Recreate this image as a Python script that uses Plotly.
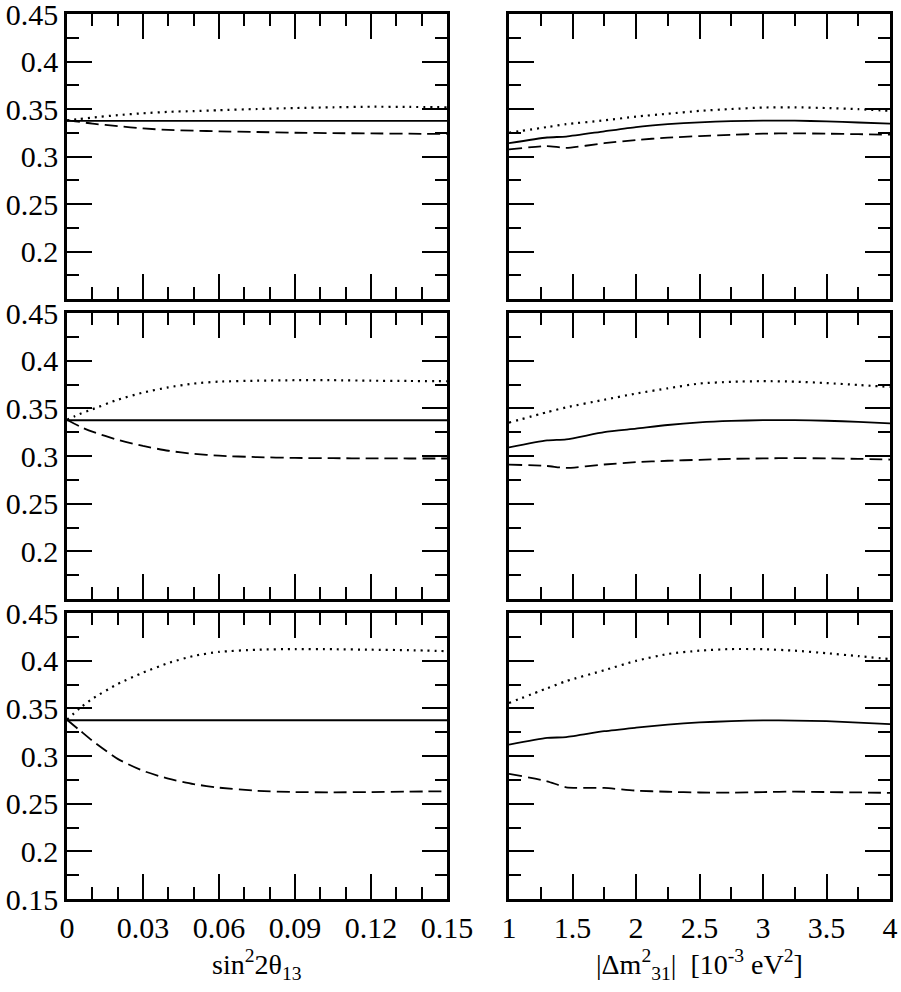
import plotly.graph_objects as go

# x grids
s2t = [0, 0.005, 0.01, 0.02, 0.03, 0.04, 0.05, 0.06, 0.075, 0.09, 0.105, 0.12, 0.135, 0.15]
dm2 = [1, 1.3, 1.45, 1.75, 2, 2.25, 2.5, 2.75, 3, 3.25, 3.5, 3.75, 4]

# left column (vs sin^2 2theta13)
left_solid = [0.3375] * len(s2t)
top_left_dot = [0.338, 0.3395, 0.341, 0.3435, 0.3455, 0.347, 0.3478, 0.3487, 0.35, 0.351, 0.3518, 0.3524, 0.3522, 0.3518]
top_left_dash = [0.338, 0.3365, 0.3345, 0.332, 0.3295, 0.328, 0.3272, 0.3265, 0.3258, 0.325, 0.3246, 0.3243, 0.324, 0.3237]
mid_left_dot = [0.338, 0.344, 0.349, 0.359, 0.3665, 0.372, 0.376, 0.378, 0.379, 0.3795, 0.3795, 0.379, 0.3787, 0.3784]
mid_left_dash = [0.338, 0.331, 0.3255, 0.317, 0.3105, 0.3055, 0.3023, 0.3003, 0.2988, 0.298, 0.2977, 0.2975, 0.2974, 0.2974]
bot_left_dot = [0.338, 0.350, 0.360, 0.3755, 0.3875, 0.3975, 0.405, 0.4092, 0.4115, 0.4122, 0.412, 0.4115, 0.411, 0.41]
bot_left_dash = [0.338, 0.327, 0.316, 0.297, 0.2845, 0.2762, 0.2705, 0.2668, 0.2635, 0.2622, 0.2619, 0.2622, 0.2626, 0.263]

# right column (vs |dm^2_31|)
top_right_solid = [0.314, 0.320, 0.321, 0.3265, 0.331, 0.334, 0.336, 0.3372, 0.3378, 0.3377, 0.337, 0.3358, 0.3345]
top_right_dot = [0.325, 0.331, 0.334, 0.338, 0.342, 0.345, 0.348, 0.350, 0.3515, 0.3518, 0.351, 0.3498, 0.348]
top_right_dash = [0.3075, 0.311, 0.309, 0.314, 0.3174, 0.3198, 0.3215, 0.3228, 0.324, 0.3244, 0.324, 0.3235, 0.323]
mid_right_solid = [0.309, 0.3163, 0.3174, 0.325, 0.3286, 0.3325, 0.3352, 0.3368, 0.3376, 0.3377, 0.337, 0.3358, 0.3342]
mid_right_dot = [0.335, 0.346, 0.351, 0.359, 0.3655, 0.371, 0.376, 0.3778, 0.3785, 0.378, 0.3765, 0.3745, 0.3724]
mid_right_dash = [0.291, 0.2895, 0.2875, 0.2911, 0.2935, 0.295, 0.296, 0.297, 0.2975, 0.2978, 0.2975, 0.297, 0.2963]
bot_right_solid = [0.312, 0.319, 0.3198, 0.326, 0.3297, 0.333, 0.3352, 0.3366, 0.3374, 0.3372, 0.3365, 0.335, 0.3335]
bot_right_dot = [0.3556, 0.371, 0.3785, 0.390, 0.3998, 0.407, 0.4105, 0.4122, 0.412, 0.4105, 0.4078, 0.4048, 0.4016]
bot_right_dash = [0.2813, 0.2735, 0.2672, 0.2665, 0.2637, 0.2625, 0.2617, 0.2615, 0.2622, 0.2626, 0.2622, 0.2618, 0.2613]

y_ticks_upper = [0.2, 0.25, 0.3, 0.35, 0.4, 0.45]
y_ticks_bottom = [0.15, 0.2, 0.25, 0.3, 0.35, 0.4, 0.45]
x_left_ticks = [0, 0.03, 0.06, 0.09, 0.12, 0.15]
x_right_ticks = [1, 1.5, 2, 2.5, 3, 3.5, 4]

W, H = 901, 992
FONT = "Liberation Serif"

fig = go.Figure()

# panel boxes in pixels: (left, right), (top, bottom)
cols = [(67, 447), (509, 890)]
rows = [(14, 299), (313, 599), (613, 899)]


def px_x(p):
    return p / W


def px_y(p):
    return 1 - p / H


panels = [
    (0, 0, s2t, left_solid, top_left_dot, top_left_dash),
    (0, 1, dm2, top_right_solid, top_right_dot, top_right_dash),
    (1, 0, s2t, left_solid, mid_left_dot, mid_left_dash),
    (1, 1, dm2, mid_right_solid, mid_right_dot, mid_right_dash),
    (2, 0, s2t, left_solid, bot_left_dot, bot_left_dash),
    (2, 1, dm2, bot_right_solid, bot_right_dot, bot_right_dash),
]

for n, (r, c, xs, sol, dot, dash) in enumerate(panels):
    k = n + 1
    xa = "x" if k == 1 else "x%d" % k
    ya = "y" if k == 1 else "y%d" % k
    for ys, d, w in [(sol, "solid", 1.8), (dot, "2px,5px", 2.2), (dash, "13px,6px", 1.8)]:
        fig.add_trace(go.Scatter(x=xs, y=ys, mode="lines", xaxis=xa, yaxis=ya,
                                 line=dict(color="black", width=w, dash=d, shape="spline", smoothing=0.6),
                                 showlegend=False, hoverinfo="skip"))
    x0, x1 = cols[c]
    t, b = rows[r]
    if c == 0:
        xr, xt, xminor = [0, 0.15], x_left_ticks, 0.01
    else:
        xr, xt, xminor = [1, 4], x_right_ticks, 0.25
    yt = y_ticks_bottom if r == 2 else y_ticks_upper
    common = dict(showline=True, linewidth=2.5, linecolor="black", mirror="ticks",
                  ticks="inside", ticklen=25, tickwidth=2, tickcolor="black",
                  showgrid=False, zeroline=False, automargin=False,
                  ticklabeloverflow="allow",
                  tickfont=dict(family=FONT, size=30, color="black"))
    fig.layout["xaxis" if k == 1 else "xaxis%d" % k] = go.layout.XAxis(
        common, domain=[px_x(x0), px_x(x1)], range=xr, anchor=ya,
        tickvals=xt, ticktext=[("%g" % v) for v in xt], showticklabels=(r == 2),
        minor=dict(dtick=xminor, tick0=xr[0], ticks="inside", ticklen=12, tickwidth=2, tickcolor="black"))
    fig.layout["yaxis" if k == 1 else "yaxis%d" % k] = go.layout.YAxis(
        common, domain=[px_y(b), px_y(t)], range=[0.15, 0.45], anchor=xa,
        tickvals=yt, ticktext=[("%g" % v) for v in yt], showticklabels=(c == 0),
        minor=dict(dtick=0.025, tick0=0.15, ticks="inside", ticklen=12, tickwidth=2, tickcolor="black"))

# x axis titles
fig.add_annotation(x=px_x((67 + 447) / 2), y=px_y(964), xref="paper", yref="paper",
                   xanchor="center", yanchor="middle",
                   text="sin<sup>2</sup>2θ<sub>13</sub>", showarrow=False,
                   font=dict(family=FONT, size=28, color="black"))
fig.add_annotation(x=px_x((509 + 890) / 2), y=px_y(964), xref="paper", yref="paper",
                   xanchor="center", yanchor="middle",
                   text="|Δm<sup>2</sup><sub>31</sub>|  [10<sup>-3</sup> eV<sup>2</sup>]", showarrow=False,
                   font=dict(family=FONT, size=28, color="black"))

fig.update_layout(width=W, height=H, margin=dict(l=0, r=0, t=0, b=0),
                  paper_bgcolor="white", plot_bgcolor="white",
                  font=dict(family=FONT, size=28, color="black"))

# drop the browser's default body margin so the figure fills the window
fig.write_html("out.html", config={"displayModeBar": False},
               post_script="document.body.style.margin='0';")
